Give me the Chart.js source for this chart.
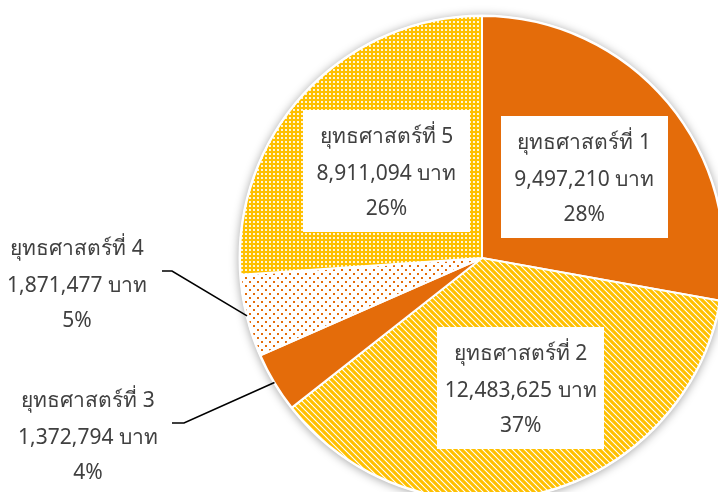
<!DOCTYPE html>
<html><head><meta charset="utf-8">
<script src="https://cdn.jsdelivr.net/npm/chart.js@4/dist/chart.umd.min.js"></script>
<style>
html,body{margin:0;padding:0;background:#fff;overflow:hidden;width:718px;height:492px;}
#wrap{position:absolute;left:0;top:0;width:724px;height:500px;}
</style></head><body>
<div id="wrap"><canvas id="c" width="724" height="500"></canvas></div>
<script>
// ---- data ----
const categories = ['ยุทธศาสตร์ที่ 1','ยุทธศาสตร์ที่ 2','ยุทธศาสตร์ที่ 3','ยุทธศาสตร์ที่ 4','ยุทธศาสตร์ที่ 5'];
const budgetBaht = [9497210, 12483625, 1372794, 1871477, 8911094];
const currencyUnit = 'บาท';

// ---- styles ----
const ORANGE = '#E46C0A', YELLOW = '#FFC000';
function makePattern(w, h, draw) {
  const c = document.createElement('canvas'); c.width = w; c.height = h;
  const g = c.getContext('2d'); draw(g, w, h);
  return document.getElementById('c').getContext('2d').createPattern(c, 'repeat');
}
const solidOrange = ORANGE;
const stripes = makePattern(6, 6, (g) => {
  g.fillStyle = '#fff'; g.fillRect(0,0,6,6);
  g.strokeStyle = YELLOW; g.lineWidth = 3.1;
  g.beginPath();
  g.moveTo(-3,-3); g.lineTo(9,9);
  g.moveTo(-3,3); g.lineTo(3,9);
  g.moveTo(3,-3); g.lineTo(9,3);
  g.stroke();
});
const orangeDots = makePattern(8, 8, (g) => {
  g.fillStyle = '#fff'; g.fillRect(0,0,8,8);
  g.fillStyle = ORANGE; g.fillRect(1,1,2,2); g.fillRect(5,5,2,2);
});
const yellowGrid = makePattern(4, 4, (g) => {
  g.fillStyle = YELLOW; g.fillRect(0,0,4,4);
  g.fillStyle = '#fff6d8'; g.fillRect(1,1,2,2);
});
const fills = [solidOrange, stripes, solidOrange, orangeDots, yellowGrid];

// ---- label layout ----
const FONT = '21px Tahoma, "Noto Sans", "DejaVu Sans", sans-serif';
const TEXT_COLOR = '#404040';
const insideBox = {w: 167, h: 122, radial: 0.54};
const insideNudge = {0: [2, 3], 1: [7, 3], 4: [0, 2]};
const callouts = {
  2: {elbow: [184, 423], end: [172, 423], text: [88, 438]},
  3: {elbow: [172, 271], end: [162, 271], text: [77, 286]}
};

const total = budgetBaht.reduce((a, b) => a + b, 0);
function labelLines(i) {
  return [categories[i], budgetBaht[i].toLocaleString('en-US') + ' ' + currencyUnit,
          Math.round(budgetBaht[i] / total * 100) + '%'];
}
function drawLines(ctx, lines, cx, cy) {
  ctx.font = FONT; ctx.fillStyle = TEXT_COLOR;
  ctx.textAlign = 'center'; ctx.textBaseline = 'middle';
  ctx.fillText(lines[0], cx, cy - 37);
  ctx.fillText(lines[1], cx, cy);
  ctx.fillText(lines[2], cx, cy + 35);
}

const shadowPlugin = {
  id: 'pieShadow',
  beforeDatasetsDraw(chart) {
    const arc = chart.getDatasetMeta(0).data[0]; if (!arc) return;
    const ctx = chart.ctx; ctx.save();
    ctx.shadowColor = 'rgba(0,0,0,0.35)'; ctx.shadowBlur = 10; ctx.shadowOffsetY = 1;
    ctx.fillStyle = '#fff'; ctx.beginPath();
    ctx.arc(arc.x, arc.y, arc.outerRadius + 1.5, 0, Math.PI * 2); ctx.fill();
    ctx.restore();
  }
};
const labelPlugin = {
  id: 'pieLabels',
  afterDatasetsDraw(chart) {
    const ctx = chart.ctx; const meta = chart.getDatasetMeta(0);
    meta.data.forEach((arc, i) => {
      const mid = (arc.startAngle + arc.endAngle) / 2;
      const lines = labelLines(i);
      ctx.save();
      if (callouts[i]) {
        const c = callouts[i];
        const ex = arc.x + Math.cos(mid) * arc.outerRadius, ey = arc.y + Math.sin(mid) * arc.outerRadius;
        ctx.strokeStyle = '#000'; ctx.lineWidth = 1.6;
        ctx.beginPath(); ctx.moveTo(ex, ey); ctx.lineTo(c.elbow[0], c.elbow[1]); ctx.lineTo(c.end[0], c.end[1]); ctx.stroke();
        drawLines(ctx, lines, c.text[0], c.text[1]);
      } else {
        const r = arc.outerRadius * insideBox.radial;
        const n = insideNudge[i] || [0, 0];
        const cx = arc.x + Math.cos(mid) * r + n[0], cy = arc.y + Math.sin(mid) * r + n[1];
        ctx.fillStyle = '#fff';
        ctx.fillRect(Math.round(cx - insideBox.w / 2), Math.round(cy - insideBox.h / 2), insideBox.w, insideBox.h);
        drawLines(ctx, lines, cx, cy + 3);
      }
      ctx.restore();
    });
  }
};

new Chart(document.getElementById('c'), {
  type: 'pie',
  data: {labels: categories, datasets: [{data: budgetBaht, backgroundColor: fills, borderColor: '#fff', borderWidth: 2}]},
  options: {
    responsive: false, animation: false, radius: 242,
    layout: {padding: {left: 240, top: 16, right: 0, bottom: 0}},
    plugins: {legend: {display: false}, tooltip: {enabled: false}}
  },
  plugins: [shadowPlugin, labelPlugin]
});
</script>
</body></html>
